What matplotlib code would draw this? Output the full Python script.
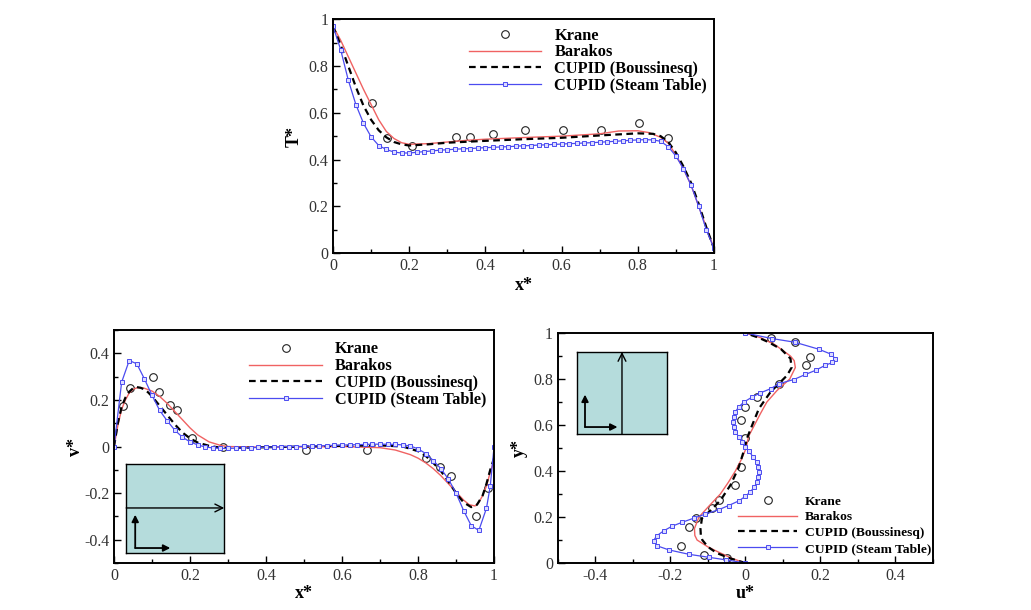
import matplotlib
matplotlib.use("Agg")
import matplotlib.pyplot as plt
from matplotlib.ticker import MultipleLocator, FuncFormatter

plt.rcParams["font.family"] = ["Liberation Serif", "DejaVu Serif"]
plt.rcParams["axes.unicode_minus"] = False

LABELS = ["Krane", "Barakos", "CUPID (Boussinesq)", "CUPID (Steam Table)"]

# ---- T* vs x* (top panel) ----
t_krane_x = [0.102, 0.142, 0.207, 0.323, 0.36, 0.42, 0.503, 0.603, 0.704, 0.803, 0.88]
t_krane_y = [0.643, 0.49, 0.457, 0.496, 0.496, 0.511, 0.526, 0.526, 0.526, 0.556, 0.494]

t_bar_x = [0, 0.02, 0.04, 0.06, 0.08, 0.10, 0.12, 0.14, 0.16, 0.18, 0.20, 0.25, 0.3, 0.35,
           0.4, 0.5, 0.6, 0.7, 0.75, 0.8, 0.83, 0.86, 0.88, 0.9, 0.92, 0.94, 0.96, 0.98, 1.0]
t_bar_y = [0.97, 0.91, 0.84, 0.77, 0.70, 0.635, 0.57, 0.52, 0.49, 0.472, 0.465, 0.468, 0.475, 0.482,
           0.487, 0.494, 0.5, 0.51, 0.522, 0.523, 0.515, 0.495, 0.47, 0.42, 0.36, 0.29, 0.2, 0.11, 0.02]

t_bou_x = [0, 0.02, 0.04, 0.06, 0.08, 0.10, 0.12, 0.14, 0.16, 0.18, 0.20, 0.25, 0.3, 0.4,
           0.5, 0.6, 0.7, 0.8, 0.84, 0.86, 0.88, 0.9, 0.92, 0.94, 0.96, 0.98, 1.0]
t_bou_y = [0.97, 0.89, 0.80, 0.71, 0.63, 0.57, 0.525, 0.495, 0.475, 0.465, 0.46, 0.465, 0.472, 0.48,
           0.487, 0.493, 0.503, 0.512, 0.51, 0.5, 0.475, 0.43, 0.37, 0.3, 0.21, 0.11, 0.02]

t_st_x = [i / 50 for i in range(51)]
t_st_y = [0.97, 0.87, 0.74, 0.635, 0.555, 0.497, 0.46, 0.443, 0.432, 0.428,
          0.428, 0.431, 0.434, 0.437, 0.44, 0.442, 0.444, 0.446, 0.447, 0.449,
          0.451, 0.452, 0.454, 0.455, 0.457, 0.459, 0.46, 0.462, 0.463, 0.465,
          0.466, 0.468, 0.469, 0.471, 0.472, 0.474, 0.476, 0.478, 0.48, 0.482,
          0.484, 0.485, 0.484, 0.478, 0.455, 0.415, 0.36, 0.29, 0.2, 0.1, 0.02]

# ---- v* vs x* (bottom left) ----
v_krane_x = [0.023, 0.042, 0.103, 0.119, 0.146, 0.165, 0.204, 0.286, 0.504, 0.666,
             0.82, 0.857, 0.888, 0.953, 0.984]
v_krane_y = [0.172, 0.25, 0.30, 0.232, 0.18, 0.158, 0.037, -0.001, -0.014, -0.014,
             -0.05, -0.09, -0.128, -0.30, -0.18]

v_bar_x = [0, 0.01, 0.02, 0.03, 0.04, 0.05, 0.06, 0.07, 0.08, 0.10, 0.12, 0.14, 0.16, 0.18,
           0.20, 0.22, 0.25, 0.28, 0.3, 0.4, 0.5, 0.6, 0.7, 0.74, 0.78, 0.8, 0.82, 0.84,
           0.86, 0.88, 0.9, 0.92, 0.935, 0.95, 0.96, 0.97, 0.98, 0.99, 1.0]
v_bar_y = [0, 0.09, 0.16, 0.2, 0.23, 0.245, 0.252, 0.253, 0.25, 0.238, 0.215, 0.185, 0.15, 0.115,
           0.08, 0.05, 0.02, 0.005, 0, -0.003, -0.002, 0, -0.005, -0.015, -0.035, -0.05, -0.07, -0.095,
           -0.125, -0.16, -0.195, -0.23, -0.25, -0.255, -0.24, -0.21, -0.17, -0.11, -0.06]

v_bou_x = [0, 0.01, 0.02, 0.03, 0.04, 0.05, 0.06, 0.07, 0.08, 0.09, 0.10, 0.12, 0.14, 0.16,
           0.18, 0.20, 0.22, 0.25, 0.28, 0.3, 0.4, 0.5, 0.6, 0.7, 0.76, 0.8, 0.82, 0.84,
           0.86, 0.88, 0.9, 0.92, 0.94, 0.955, 0.97, 0.98, 0.99, 1.0]
v_bou_y = [0, 0.1, 0.17, 0.21, 0.235, 0.25, 0.255, 0.252, 0.245, 0.232, 0.215, 0.175, 0.135, 0.095,
           0.06, 0.035, 0.017, 0.003, -0.005, -0.007, -0.003, 0, 0.003, 0.005, 0, -0.02, -0.04, -0.07,
           -0.105, -0.15, -0.2, -0.24, -0.26, -0.25, -0.21, -0.16, -0.1, -0.05]

v_st_x = [i / 50 for i in range(50)] + [0.99, 1.0]
v_st_y = [0.0, 0.276, 0.369, 0.355, 0.29, 0.22, 0.155, 0.11, 0.07, 0.04,
          0.02, 0.007, -0.002, -0.006, -0.008, -0.008, -0.007, -0.006, -0.005, -0.004,
          -0.003, -0.002, -0.001, 0.0, 0.0, 0.001, 0.002, 0.003, 0.004, 0.005,
          0.006, 0.007, 0.008, 0.009, 0.01, 0.01, 0.01, 0.009, 0.007, 0.002,
          -0.01, -0.03, -0.06, -0.095, -0.14, -0.2, -0.275, -0.34, -0.36, -0.265,
          -0.17, 0.0]

# ---- y* vs u* (bottom right) ----
u_krane_u = [0.069, 0.132, 0.171, 0.162, 0.09, 0.031, 0.0, -0.011, 0.0, -0.013, -0.027,
             -0.071, -0.089, -0.131, -0.151, -0.173, -0.111, -0.049]
u_krane_y = [0.98, 0.96, 0.898, 0.859, 0.78, 0.722, 0.679, 0.621, 0.542, 0.416, 0.339,
             0.274, 0.238, 0.195, 0.156, 0.075, 0.036, 0.022]

u_bar_y = [0, 0.02, 0.05, 0.07, 0.1, 0.12, 0.15, 0.2, 0.25, 0.3, 0.35, 0.4, 0.45, 0.5, 0.55,
           0.6, 0.65, 0.7, 0.75, 0.8, 0.85, 0.88, 0.9, 0.95, 0.98, 1.0]
u_bar_u = [0, -0.036, -0.075, -0.1, -0.129, -0.135, -0.136, -0.124, -0.096, -0.067, -0.046,
           -0.027, -0.011, 0.002, 0.008, 0.024, 0.04, 0.057, 0.084, 0.118, 0.133, 0.13, 0.12,
           0.078, 0.04, 0.0]

u_bou_y = [0, 0.02, 0.043, 0.07, 0.1, 0.12, 0.15, 0.195, 0.23, 0.274, 0.339, 0.416, 0.5, 0.542,
           0.6, 0.672, 0.744, 0.816, 0.85, 0.889, 0.93, 0.96, 0.98, 1.0]
u_bou_u = [0, -0.04, -0.076, -0.1, -0.115, -0.119, -0.12, -0.116, -0.092, -0.066, -0.04, -0.018,
           -0.002, 0.004, 0.018, 0.036, 0.067, 0.111, 0.123, 0.12, 0.095, 0.062, 0.035, 0.0]

u_st_u = [0.0, 0.071, 0.132, 0.195, 0.227, 0.24, 0.232, 0.213, 0.187, 0.16, 0.129, 0.09,
          0.067, 0.04, 0.018, -0.004, -0.018, -0.027, -0.031, -0.032, -0.031, -0.027,
          -0.018, -0.009, 0.0, 0.01, 0.02, 0.03, 0.034, 0.035, 0.034, 0.03, 0.024, 0.013,
          0.0, -0.018, -0.045, -0.071, -0.107, -0.138, -0.169, -0.196, -0.218, -0.237,
          -0.245, -0.236, -0.204, -0.151, -0.098, -0.053, 0.0]
u_st_y = [1.0, 0.976, 0.96, 0.93, 0.909, 0.888, 0.872, 0.86, 0.838, 0.82, 0.798, 0.78,
          0.758, 0.74, 0.722, 0.7, 0.679, 0.657, 0.635, 0.614, 0.592, 0.571,
          0.549, 0.527, 0.505, 0.485, 0.462, 0.44, 0.418, 0.396, 0.374, 0.352, 0.33, 0.31,
          0.29, 0.27, 0.25, 0.232, 0.213, 0.195, 0.177, 0.16, 0.14, 0.118,
          0.097, 0.075, 0.057, 0.038, 0.025, 0.014, 0.0]

RED = "#f06262"
BLUE = "#4b4bf0"
TEAL = "#b5dcdc"


def fmt(v, _):
    return f"{v:g}" if abs(v) > 1e-9 else "0"


def style_axes(ax):
    for s in ax.spines.values():
        s.set_linewidth(1.4)
    ax.tick_params(which="both", direction="in", top=False, right=False,
                   labelsize=11.5, labelcolor="#333333", width=1.0)
    ax.tick_params(which="major", length=5)
    ax.tick_params(which="minor", length=3)
    ax.xaxis.set_major_locator(MultipleLocator(0.2))
    ax.xaxis.set_minor_locator(MultipleLocator(0.1))
    ax.yaxis.set_major_locator(MultipleLocator(0.2))
    ax.yaxis.set_minor_locator(MultipleLocator(0.1))
    ax.xaxis.set_major_formatter(FuncFormatter(fmt))
    ax.yaxis.set_major_formatter(FuncFormatter(fmt))


def draw_series(ax, kx, ky, bx, by, cx, cy, sx, sy):
    ax.plot(kx, ky, "o", ls="none", mfc="none", mec="#222222", ms=5.5, mew=0.8, label=LABELS[0])
    ax.plot(bx, by, "-", color=RED, lw=1.0, label=LABELS[1])
    ax.plot(cx, cy, "--", color="black", lw=1.6, dashes=(3, 2), label=LABELS[2])
    ax.plot(sx, sy, "-", color=BLUE, lw=0.9, marker="s", ms=3.5, mfc="#dcdcff",
            mec=BLUE, mew=0.7, label=LABELS[3])


def add_inset(ax, rect, horizontal):
    ins = ax.inset_axes(rect)
    ins.set_facecolor(TEAL)
    ins.set_xlim(0, 1); ins.set_ylim(0, 1)
    ins.set_xticks([]); ins.set_yticks([])
    for s in ins.spines.values():
        s.set_linewidth(1.0)
    if horizontal:
        ins.annotate("", xy=(1.0, 0.506), xytext=(0.0, 0.506),
                     arrowprops=dict(arrowstyle="->", lw=1.0, color="black",
                                     mutation_scale=14, shrinkA=0, shrinkB=0))
        o, up, rt = (0.092, 0.056), 0.43, 0.45
    else:
        ins.annotate("", xy=(0.5, 1.0), xytext=(0.5, 0.0),
                     arrowprops=dict(arrowstyle="->", lw=1.0, color="black",
                                     mutation_scale=14, shrinkA=0, shrinkB=0))
        o, up, rt = (0.089, 0.085), 0.48, 0.45
    for tip in [(o[0], up), (rt, o[1])]:
        ins.annotate("", xy=tip, xytext=o,
                     arrowprops=dict(arrowstyle="-|>", lw=1.3, color="black",
                                     mutation_scale=10, shrinkA=0, shrinkB=0))
    return ins


fig = plt.figure(figsize=(10.31, 6.10), dpi=100)

# top panel
ax1 = fig.add_axes([0.323, 0.585, 0.3695, 0.3836])
draw_series(ax1, t_krane_x, t_krane_y, t_bar_x, t_bar_y, t_bou_x, t_bou_y, t_st_x, t_st_y)
ax1.set_xlim(0, 1); ax1.set_ylim(0, 1)
style_axes(ax1)
ax1.set_xlabel("x*", fontsize=13, fontweight="bold", labelpad=2)
ax1.set_ylabel("T*", fontsize=13, fontweight="bold", labelpad=4)
ax1.legend(loc="upper right", bbox_to_anchor=(1.012, 1.012), frameon=False,
           prop=dict(size=11.8, weight="bold"), handlelength=4.4, handletextpad=0.8,
           labelspacing=0.03, borderaxespad=0.3)

# bottom left
ax2 = fig.add_axes([0.1106, 0.077, 0.3686, 0.382])
draw_series(ax2, v_krane_x, v_krane_y, v_bar_x, v_bar_y, v_bou_x, v_bou_y, v_st_x, v_st_y)
ax2.set_xlim(0, 1); ax2.set_ylim(-0.5, 0.5)
style_axes(ax2)
ax2.set_xlabel("x*", fontsize=13, fontweight="bold", labelpad=1)
ax2.set_ylabel("v*", fontsize=13, fontweight="bold", labelpad=0)
ax2.legend(loc="upper right", bbox_to_anchor=(1.01, 1.0), frameon=False,
           prop=dict(size=11.7, weight="bold"), handlelength=4.5, handletextpad=0.8,
           labelspacing=0.05, borderaxespad=0.3)
add_inset(ax2, [0.032, 0.043, 0.258, 0.382], horizontal=True)

# bottom right
ax3 = fig.add_axes([0.5412, 0.077, 0.3637, 0.377])
draw_series(ax3, u_krane_u, u_krane_y, u_bar_u, u_bar_y, u_bou_u, u_bou_y, u_st_u, u_st_y)
ax3.set_xlim(-0.5, 0.5); ax3.set_ylim(0, 1)
style_axes(ax3)
ax3.set_xlabel("u*", fontsize=13, fontweight="bold", labelpad=1)
ax3.set_ylabel("y*", fontsize=13, fontweight="bold", labelpad=4)
ax3.legend(loc="lower right", bbox_to_anchor=(1.018, 0.0), frameon=False,
           prop=dict(size=9.7, weight="bold"), handlelength=4.4, handletextpad=0.6,
           labelspacing=0.25, borderaxespad=0.2)
add_inset(ax3, [0.0507, 0.561, 0.24, 0.357], horizontal=False)

fig.savefig("out.png", dpi=100)
